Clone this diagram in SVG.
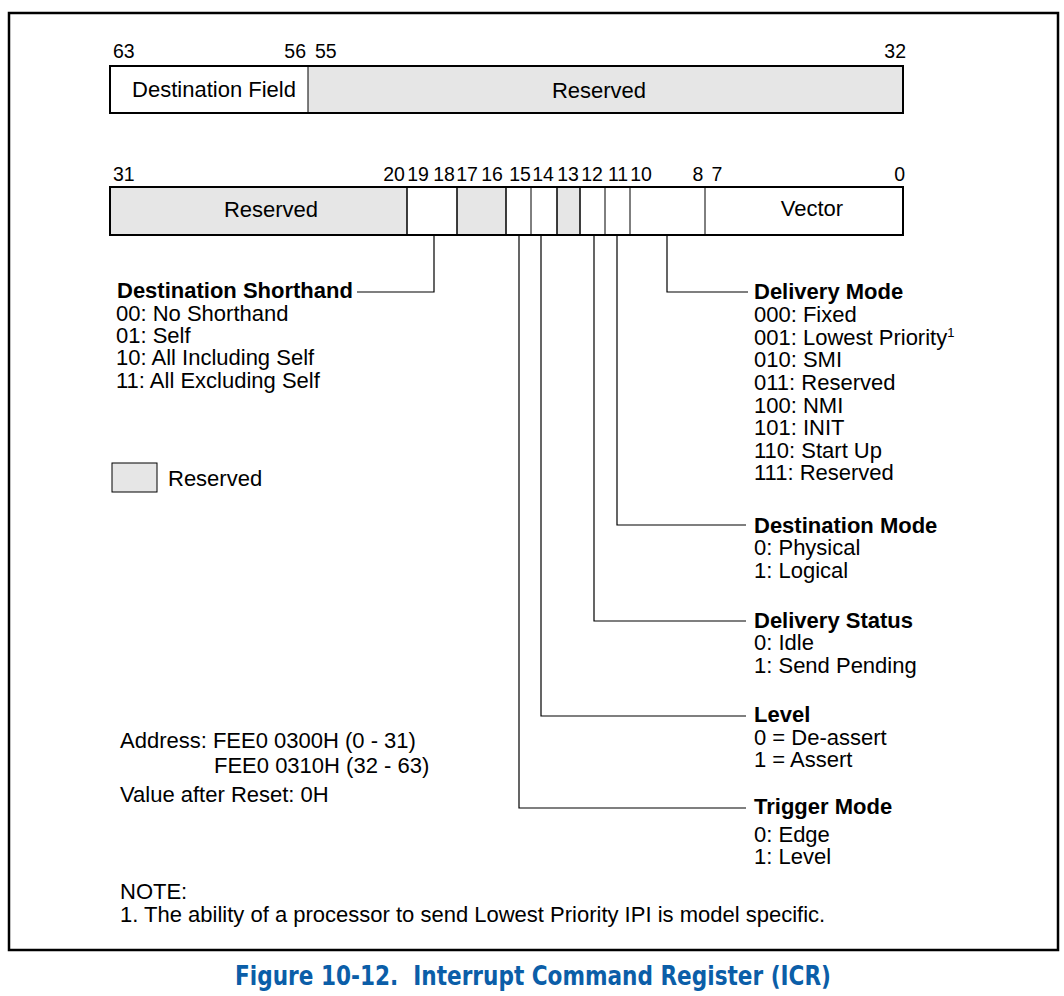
<svg xmlns="http://www.w3.org/2000/svg" width="1064" height="996" viewBox="0 0 1064 996">
<style>
text{font-family:"Liberation Sans",Arial,sans-serif;font-size:22px;fill:#000}
.b{font-weight:bold}
.num{font-size:19.5px}
.res{fill:#e6e6e6;stroke:#000;stroke-width:1}
.div{stroke:#000;stroke-width:1}
.con{fill:none;stroke:#000;stroke-width:1.2}
.title{font-family:"DejaVu Sans Condensed","DejaVu Sans",sans-serif;font-weight:bold;font-size:26px;fill:#0b5ea8;white-space:pre}
</style>
<rect x="0" y="0" width="1064" height="996" fill="#fff"/>
<rect x="9" y="13" width="1049" height="937" fill="none" stroke="#000" stroke-width="2.5"/>

<g id="reg-high">
<text class="num" x="113" y="58">63</text>
<text class="num" x="306" y="58" text-anchor="end">56</text>
<text class="num" x="315" y="58">55</text>
<text class="num" x="906" y="58" text-anchor="end">32</text>
<rect class="res" x="308" y="66" width="595" height="47"/>
<rect x="110" y="66" width="793" height="47" fill="none" stroke="#000" stroke-width="2"/>
<text x="214" y="97" text-anchor="middle">Destination Field</text>
<text x="599" y="98" text-anchor="middle">Reserved</text>
</g>

<g id="reg-low">
<text class="num" x="113" y="181">31</text>
<text class="num" x="394" y="181" text-anchor="middle">20</text>
<text class="num" x="418" y="181" text-anchor="middle">19</text>
<text class="num" x="444" y="181" text-anchor="middle">18</text>
<text class="num" x="467" y="181" text-anchor="middle">17</text>
<text class="num" x="492" y="181" text-anchor="middle">16</text>
<text class="num" x="520" y="181" text-anchor="middle">15</text>
<text class="num" x="543" y="181" text-anchor="middle">14</text>
<text class="num" x="568" y="181" text-anchor="middle">13</text>
<text class="num" x="592" y="181" text-anchor="middle">12</text>
<text class="num" x="618" y="181" text-anchor="middle">11</text>
<text class="num" x="641" y="181" text-anchor="middle">10</text>
<text class="num" x="698" y="181" text-anchor="middle">8</text>
<text class="num" x="717" y="181" text-anchor="middle">7</text>
<text class="num" x="905" y="181" text-anchor="end">0</text>
<rect class="res" x="110" y="187" width="297" height="48"/>
<rect class="res" x="457" y="187" width="49" height="48"/>
<rect class="res" x="557" y="187" width="23" height="48"/>
<line class="div" x1="407" y1="187" x2="407" y2="235"/>
<line class="div" x1="457" y1="187" x2="457" y2="235"/>
<line class="div" x1="506" y1="187" x2="506" y2="235"/>
<line class="div" x1="531" y1="187" x2="531" y2="235"/>
<line class="div" x1="557" y1="187" x2="557" y2="235"/>
<line class="div" x1="580" y1="187" x2="580" y2="235"/>
<line class="div" x1="605" y1="187" x2="605" y2="235"/>
<line class="div" x1="630" y1="187" x2="630" y2="235"/>
<line class="div" x1="705" y1="187" x2="705" y2="235"/>
<rect x="110" y="187" width="793" height="48" fill="none" stroke="#000" stroke-width="2"/>
<text x="271" y="217" text-anchor="middle">Reserved</text>
<text x="812" y="216" text-anchor="middle">Vector</text>
</g>

<g id="connectors">
<polyline class="con" points="434,235 434,292 357,292"/>
<polyline class="con" points="667,235 667,292 748,292"/>
<polyline class="con" points="617,235 617,525 746,525"/>
<polyline class="con" points="594,235 594,621 746,621"/>
<polyline class="con" points="541,235 541,716 746,716"/>
<polyline class="con" points="519,235 519,808 746,808"/>
</g>

<g id="dest-shorthand">
<text class="b" x="117" y="298">Destination Shorthand</text>
<text x="116" y="321">00: No Shorthand</text>
<text x="116" y="343">01: Self</text>
<text x="116" y="365">10: All Including Self</text>
<text x="116" y="388">11: All Excluding Self</text>
</g>

<g id="legend">
<rect class="res" x="112" y="463" width="45" height="29"/>
<text x="168" y="486">Reserved</text>
</g>

<g id="delivery-mode">
<text class="b" x="754" y="299">Delivery Mode</text>
<text x="754" y="322">000: Fixed</text>
<text x="754" y="345">001: Lowest Priority<tspan font-size="13" dy="-8">1</tspan></text>
<text x="754" y="367">010: SMI</text>
<text x="754" y="390">011: Reserved</text>
<text x="754" y="413">100: NMI</text>
<text x="754" y="435">101: INIT</text>
<text x="754" y="458">110: Start Up</text>
<text x="754" y="480">111: Reserved</text>
</g>

<g id="dest-mode">
<text class="b" x="754" y="533">Destination Mode</text>
<text x="754" y="555">0: Physical</text>
<text x="754" y="578">1: Logical</text>
</g>

<g id="delivery-status">
<text class="b" x="754" y="628">Delivery Status</text>
<text x="754" y="650">0: Idle</text>
<text x="754" y="673">1: Send Pending</text>
</g>

<g id="level">
<text class="b" x="754" y="722">Level</text>
<text x="754" y="745">0 = De-assert</text>
<text x="754" y="767">1 = Assert</text>
</g>

<g id="trigger-mode">
<text class="b" x="754" y="814">Trigger Mode</text>
<text x="754" y="842">0: Edge</text>
<text x="754" y="864">1: Level</text>
</g>

<g id="address">
<text x="120" y="748">Address: FEE0 0300H (0 - 31)</text>
<text x="214" y="773">FEE0 0310H (32 - 63)</text>
<text x="120" y="802">Value after Reset: 0H</text>
</g>

<g id="note">
<text x="120" y="899">NOTE:</text>
<text x="120" y="922">1. The ability of a processor to send Lowest Priority IPI is model specific.</text>
</g>

<text class="title" x="533" y="985" text-anchor="middle" textLength="596" lengthAdjust="spacingAndGlyphs" xml:space="preserve">Figure 10-12.  Interrupt Command Register (ICR)</text>
</svg>
